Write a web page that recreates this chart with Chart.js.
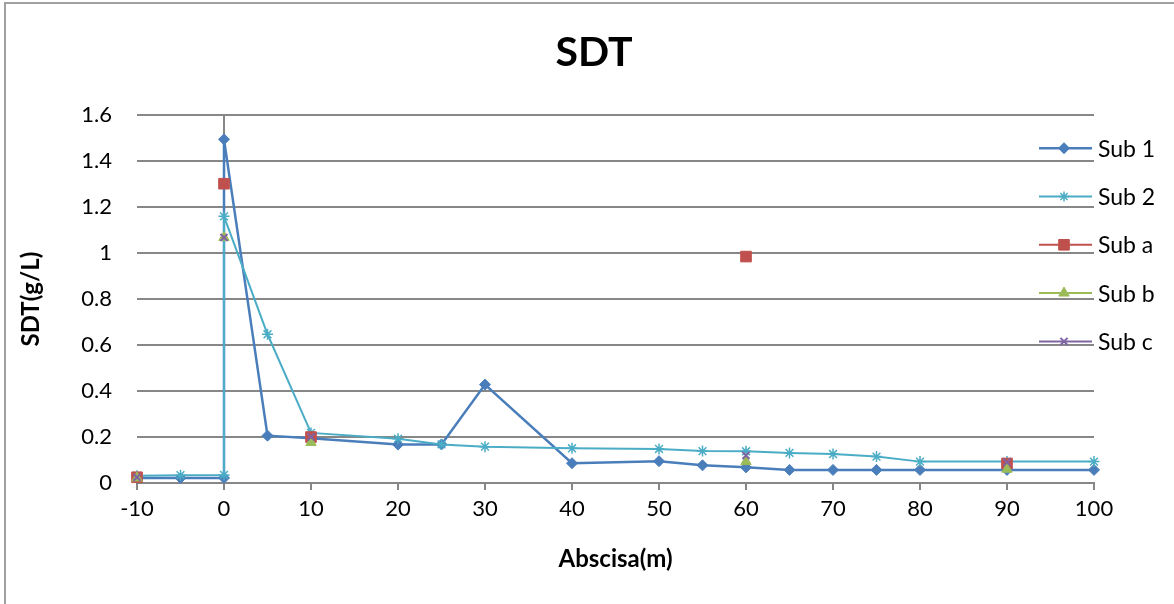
<!DOCTYPE html>
<html>
<head>
<meta charset="utf-8">
<script src="https://cdn.jsdelivr.net/npm/chart.js@4.4.1/dist/chart.umd.min.js"></script>
<style>
html, body { margin: 0; padding: 0; background: #fff; }
#wrap { position: relative; width: 1174px; height: 604px; overflow: hidden; }
#frame { position: absolute; left: 4px; top: 2px; width: 1200px; height: 640px;
         border-left: 2px solid #a0a0a0; border-top: 2px solid #a0a0a0; }
#chart { position: absolute; left: 0; top: 0; }
</style>
</head>
<body>
<div id="wrap">
  <div id="frame"></div>
  <canvas id="chart" width="1174" height="604"></canvas>
</div>
<script>
// data
const xTicks = [-10, 0, 10, 20, 30, 40, 50, 60, 70, 80, 90, 100];
const yTicks = [0, 0.2, 0.4, 0.6, 0.8, 1, 1.2, 1.4, 1.6];
const yTickLabels = ['0', '0.2', '0.4', '0.6', '0.8', '1', '1.2', '1.4', '1.6'];

const sub1X = [-10, -5, 0, 0, 5, 10, 20, 25, 30, 40, 50, 55, 60, 65, 70, 75, 80, 90, 100];
const sub1Y = [0.022, 0.022, 0.022, 1.495, 0.206, 0.195, 0.167, 0.168, 0.428, 0.086, 0.095, 0.077, 0.068, 0.057, 0.057, 0.057, 0.057, 0.057, 0.057];

const sub2X = [-10, -5, 0, 0, 5, 10, 20, 25, 30, 40, 50, 55, 60, 65, 70, 75, 80, 90, 100];
const sub2Y = [0.032, 0.034, 0.035, 1.16, 0.647, 0.218, 0.193, 0.168, 0.158, 0.151, 0.148, 0.139, 0.138, 0.131, 0.126, 0.115, 0.093, 0.093, 0.093];

const subAX = [-10, 0, 10, 60, 90];
const subAY = [0.025, 1.302, 0.2, 0.985, 0.085];
const subBX = [-10, 0, 10, 60, 90];
const subBY = [0.022, 1.068, 0.176, 0.093, 0.06];
const subCX = [-10, 0, 10, 60, 90];
const subCY = [0.025, 1.068, 0.2, 0.12, 0.09];

const gridGrey = '#878787';

function pts(xs, ys) {
    return xs.map((x, i) => ({ x: x, y: ys[i] }));
}

Chart.defaults.font.family = 'Lato, "Open Sans", sans-serif';
Chart.defaults.color = '#000';

// excel style legend: short line with the marker on it, text to the right
const excelLegend = {
    id: 'excelLegend',
    afterDraw(chart) {
        const ctx = chart.ctx;
        const area = chart.chartArea;
        ctx.save();
        chart.data.datasets.forEach((ds, i) => {
            const y = area.top + 33 + i * 48.3;
            const x0 = area.right - 55;
            const x1 = area.right - 2;
            const xm = area.right - 30;
            ctx.strokeStyle = ds.borderColor;
            ctx.fillStyle = ds.backgroundColor;
            ctx.lineWidth = ds.legendLineWidth;
            ctx.beginPath();
            ctx.moveTo(x0, y);
            ctx.lineTo(x1, y);
            ctx.stroke();
            ctx.lineWidth = ds.pointBorderWidth;
            Chart.helpers.drawPoint(ctx, {
                pointStyle: ds.pointStyle,
                radius: ds.legendRadius,
                borderWidth: ds.pointBorderWidth,
                rotation: 0
            }, xm, y);
            ctx.fillStyle = '#000';
            ctx.font = '23px Lato, "Open Sans", sans-serif';
            ctx.textBaseline = 'middle';
            ctx.textAlign = 'left';
            ctx.fillText(ds.label, area.right + 4, y + 1);
        });
        ctx.restore();
    }
};

const chart = new Chart(document.getElementById('chart').getContext('2d'), {
    type: 'scatter',
    data: {
        datasets: [
            {
                label: 'Sub 1',
                data: pts(sub1X, sub1Y),
                showLine: true,
                borderColor: '#4a7ebb',
                backgroundColor: '#4a7ebb',
                borderWidth: 2.5,
                pointStyle: 'rectRot',
                pointRadius: 5.5,
                pointBorderWidth: 1,
                legendRadius: 5.5,
                legendLineWidth: 2.5,
                clip: false,
                order: 5
            },
            {
                label: 'Sub 2',
                data: pts(sub2X, sub2Y),
                showLine: true,
                borderColor: '#4bacc6',
                backgroundColor: '#4bacc6',
                borderWidth: 2,
                pointStyle: 'star',
                pointRadius: 5.5,
                pointBorderWidth: 1.5,
                legendRadius: 5,
                legendLineWidth: 2,
                clip: false,
                order: 4
            },
            {
                label: 'Sub a',
                data: pts(subAX, subAY),
                showLine: false,
                borderColor: '#c0504d',
                backgroundColor: '#c0504d',
                pointStyle: 'rect',
                pointRadius: 7.5,
                pointBorderWidth: 1,
                legendRadius: 7.5,
                legendLineWidth: 2,
                clip: false,
                order: 3
            },
            {
                label: 'Sub b',
                data: pts(subBX, subBY),
                showLine: false,
                borderColor: '#9bbb59',
                backgroundColor: '#9bbb59',
                pointStyle: 'triangle',
                pointRadius: 6,
                pointBorderWidth: 1,
                legendRadius: 6,
                legendLineWidth: 2,
                clip: false,
                order: 2
            },
            {
                label: 'Sub c',
                data: pts(subCX, subCY),
                showLine: false,
                borderColor: '#8064a2',
                backgroundColor: '#8064a2',
                pointStyle: 'crossRot',
                pointRadius: 5,
                pointBorderWidth: 2,
                legendRadius: 5,
                legendLineWidth: 2,
                clip: false,
                order: 1
            }
        ]
    },
    options: {
        responsive: false,
        animation: false,
        layout: { padding: { left: 14, right: 0, top: 0, bottom: 0 } },
        plugins: {
            legend: { display: false },
            tooltip: { enabled: false },
            title: {
                display: true,
                text: 'SDT',
                color: '#000',
                font: { size: 41, weight: 'bold' },
                padding: { top: 28, bottom: 38 }
            }
        },
        scales: {
            x: {
                type: 'linear',
                min: -10,
                max: 100,
                afterBuildTicks: s => { s.ticks = xTicks.map(v => ({ value: v })); },
                afterFit: s => { s.height = 121; },
                ticks: { font: { size: 22 }, padding: 6, maxRotation: 0 },
                grid: {
                    color: c => (c.tick && c.tick.value === 0) ? gridGrey : 'rgba(0,0,0,0)',
                    lineWidth: 2,
                    tickLength: 7,
                    tickColor: gridGrey,
                    tickWidth: 2
                },
                border: { color: gridGrey, width: 2 },
                title: {
                    display: true,
                    text: 'Abscisa(m)',
                    font: { size: 24, weight: 'bold' },
                    padding: { top: 0, bottom: 30 }
                }
            },
            y: {
                min: 0,
                max: 1.6,
                afterBuildTicks: s => { s.ticks = yTicks.map(v => ({ value: v })); },
                afterFit: s => { s.width = 123; },
                ticks: {
                    font: { size: 22 },
                    padding: 25,
                    callback: (v, i) => yTickLabels[i]
                },
                grid: { color: gridGrey, lineWidth: 2, drawTicks: false },
                border: { display: false },
                title: {
                    display: true,
                    text: 'SDT(g/L)',
                    font: { size: 24, weight: 'bold' },
                    padding: { top: 3, bottom: 0 }
                }
            },
            // empty column on the right that holds the legend
            legendSpace: {
                position: 'right',
                min: 0,
                max: 1,
                afterFit: s => { s.width = 80; },
                ticks: { display: false },
                grid: { display: false },
                border: { display: false }
            }
        }
    },
    plugins: [excelLegend]
});
</script>
</body>
</html>
